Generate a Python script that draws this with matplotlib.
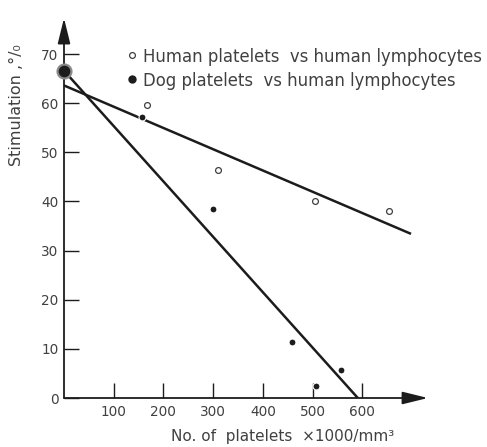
import matplotlib
matplotlib.use("Agg")
import matplotlib.pyplot as plt

# Platelet counts (x1000/mm3) and lymphocyte stimulation (%)
human_x = [166, 309, 505, 654]
human_y = [59.6, 46.3, 40.1, 38.1]
dog_x = [157, 300, 458, 506, 557]
dog_y = [57.1, 38.4, 11.3, 2.5, 5.7]
# control (no platelets), common to both series
control_x = [0]
control_y = [66.6]
# fitted regression lines
human_fit_x = [0, 698]
human_fit_y = [63.6, 33.4]
dog_fit_x = [0, 591]
dog_fit_y = [66.6, 0]

x_ticks = [100, 200, 300, 400, 500, 600]
y_ticks = [0, 10, 20, 30, 40, 50, 60, 70]

ink = "#1c1c1c"
txt = "#404040"
plt.rcParams["font.family"] = ["DejaVu Sans"]

W, H, DPI = 487, 447, 100
fig = plt.figure(figsize=(W / DPI, H / DPI), dpi=DPI)
fig.patch.set_facecolor("white")

x0, y0 = 64, 398
xmax, ymax = 740, 78
px_x = 298.3 / 600
px_y = 344.0 / 70
ax = fig.add_axes([x0 / W, (H - y0) / H, xmax * px_x / W, ymax * px_y / H])
ax.set_xlim(0, xmax)
ax.set_ylim(0, ymax)
for s in ax.spines.values():
    s.set_visible(False)

# axes with arrowheads
arrow = dict(arrowstyle="-|>,head_length=1.3,head_width=0.32", color=ink,
             lw=1.3, shrinkA=0, shrinkB=0, mutation_scale=12)
ax.annotate("", xy=(0, 77.3), xytext=(0, 0), arrowprops=arrow, annotation_clip=False)
ax.annotate("", xy=(732, 0), xytext=(0, 0), arrowprops=arrow, annotation_clip=False)

ax.set_xticks(x_ticks)
ax.set_yticks(y_ticks)
ax.tick_params(axis="both", direction="in", length=11, width=1.0, color=ink,
               labelcolor=txt, labelsize=9.8)
ax.tick_params(axis="y", pad=4)
ax.tick_params(axis="x", pad=5)

# regression lines
ax.plot(human_fit_x, human_fit_y, color=ink, lw=1.8, solid_capstyle="butt", zorder=3)
ax.plot(dog_fit_x, dog_fit_y, color=ink, lw=1.8, solid_capstyle="butt", zorder=3)

# data points
ax.plot(human_x, human_y, "o", ms=4.2, mfc="white", mec=txt, mew=0.9, ls="none", zorder=4)
ax.plot(dog_x, dog_y, "o", ms=5.0, mfc=ink, mec="white", mew=0.8, ls="none", zorder=4)
ax.plot(control_x, control_y, "o", ms=10, mfc=ink, mec="#8a8a8a", mew=1.6, ls="none",
        zorder=5, clip_on=False)

# key
ax.plot([137], [69.7], "o", ms=4.2, mfc="white", mec=txt, mew=0.9, clip_on=False)
ax.plot([137], [64.9], "o", ms=5.0, mfc=ink, mec=ink, clip_on=False)
ax.text(159, 68.4, "Human platelets  vs human lymphocytes", fontsize=11.9, color=txt,
        va="baseline", ha="left")
ax.text(159, 63.5, "Dog platelets  vs human lymphocytes", fontsize=11.9, color=txt,
        va="baseline", ha="left")

fig.text(17 / W, 1 - 105 / H, "Stimulation ,°/₀", rotation=90, fontsize=11.5, color=txt,
         ha="center", va="center")
fig.text(283 / W, 1 - 436 / H, "No. of  platelets  ×1000/mm³", fontsize=11, color=txt,
         ha="center", va="center")

fig.savefig("out.png", dpi=DPI, facecolor="white")
